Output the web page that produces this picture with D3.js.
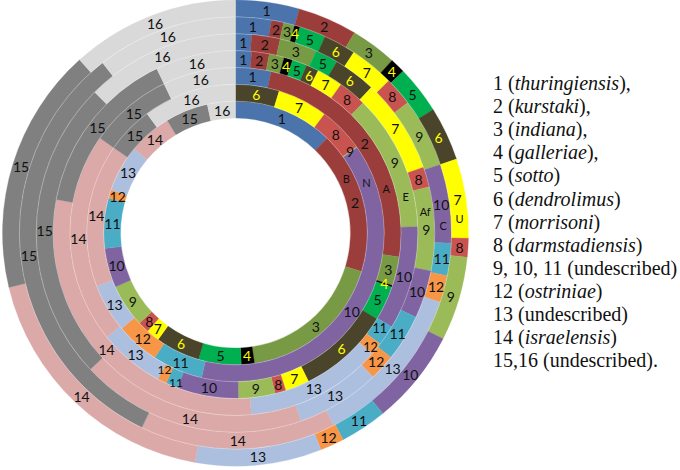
<!DOCTYPE html>
<html><head><meta charset="utf-8">
<script src="https://cdn.jsdelivr.net/npm/d3@7"></script>
<style>body{margin:0;background:#fff}svg{display:block}</style>
</head><body>
<svg id="chart" width="680" height="470"></svg>
<script>
// Categories (serovar groups), clockwise from 12 o'clock
const categories = ["1","2","3","4","5","6","7","8","9","10","11","12","13","14","15","16"];
// Ring names, inner to outer
const ringNames = ["B","N","A","E","Af","C","U"];
// Estimated shares (in degrees of the ring) for each category, per ring
const ringB  = [44, 63, 64.7, 5.8, 18.8, 19.7, 5.9, 4.9, 19, 17.4, 22.2, 3.8, 20.5, 19.1, 18.8, 12.4];
const ringN  = [0, 0, 0, 0, 0, 17.1, 19.7, 17.7, 0.4, 138.3, 19.7, 17.1, 19, 56, 18.4, 36.6];
const ringA  = [12.5, 85.8, 10.2, 0.6, 12.2, 32.5, 8.5, 3.8, 12.9, 21.5, 4.3, 3.2, 23, 74, 29.4, 25.6];
const ringE  = [5.1, 5.6, 4.8, 2.8, 4.7, 4, 8.4, 9, 43.6, 33, 6.5, 4, 43.5, 105.6, 53.8, 25.6];
const ringAf = [4.7, 8.3, 10.9, 0, 6.7, 12.4, 27.7, 5.9, 24.4, 14, 13.7, 7.6, 24.5, 66, 88.2, 45];
const ringC  = [9.6, 3.3, 3.0, 1.5, 7.1, 8.7, 12, 7.7, 18.6, 21.2, 8.7, 7.3, 44.3, 52.7, 116.3, 38];
const ringU  = [15.9, 14.8, 11.5, 3.8, 12, 13.5, 19.8, 4.7, 21, 23.8, 11.7, 6, 31.5, 66.5, 61.5, 42];
// Legend
const legendNumbers = ["1","2","3","4","5","6","7","8","9, 10, 11","12","13","14","15,16"];
const legendNames = ["thuringiensis","kurstaki","indiana","galleriae","sotto","dendrolimus","morrisoni","darmstadiensis","undescribed","ostriniae","undescribed","israelensis","undescribed"];
const legendItalic = [true,true,true,true,true,true,true,true,false,true,false,true,false];
const legendSuffix = [",",",",",",",","","","","","","","","","."];

const rings = [ringB, ringN, ringA, ringE, ringAf, ringC, ringU];
const palette = ["#4a74ab","#9b3d3a","#789a45","#000000","#00b050","#49442a","#ffff00","#c9534f",
                 "#9bbb59","#8064a2","#4bacc6","#f79646","#adbfdf","#dba9a8","#808080","#d9d9d9"];
const yellowText = new Set(["4","6"]);
const nameAngles = [64, 69, 73.5, 78, 83.6, 87.8, 86.3];
// small layout tweaks for crowded labels: [radial shift, angular shift (deg), font size]
const labelTweak = {"A-11": [4, -1, 12], "A-12": [-3, 1, 12], "E-11": [-1, -0.8, 12.5], "E-12": [3, 0.8, 12.5]};

const cx = 235.5, cy = 233;
const svg = d3.select("#chart");
const g = svg.append("g").attr("transform", `translate(${cx},${cy})`);
const rScale = d3.scaleLinear().domain([0, rings.length]).range([115, 233]);
const color = d3.scaleOrdinal().domain(categories).range(palette);
const pie = d3.pie().sort(null).value(d => d.v);

rings.forEach((vals, i) => {
  const arcs = pie(vals.map((v, j) => ({v, cat: categories[j]}))).filter(a => a.data.v > 0);
  const arc = d3.arc().innerRadius(rScale(i)).outerRadius(rScale(i + 1));
  g.append("g").selectAll("path").data(arcs).join("path")
    .attr("d", arc)
    .attr("fill", d => color(d.data.cat))
    .attr("stroke", d => color(d.data.cat)).attr("stroke-width", 0.3);
});
// faint ring separators
g.selectAll("circle.sep").data(d3.range(1, rings.length)).join("circle")
  .attr("r", d => rScale(d)).attr("fill", "none")
  .attr("stroke", "#fff").attr("stroke-opacity", 0.35).attr("stroke-width", 0.8);

rings.forEach((vals, i) => {
  const arcs = pie(vals.map((v, j) => ({v, cat: categories[j]}))).filter(a => a.data.v > 0);
  const rm = (rScale(i) + rScale(i + 1)) / 2;
  g.append("g").selectAll("text").data(arcs).join("text")
    .attr("transform", d => {
      const tw = labelTweak[ringNames[i] + "-" + d.data.cat] || [0, 0, 14];
      const a = (d.startAngle + d.endAngle) / 2 + tw[1] * Math.PI / 180;
      const r = rm + tw[0];
      return `translate(${r * Math.sin(a)},${-r * Math.cos(a)})`;
    })
    .attr("text-anchor", "middle").attr("dominant-baseline", "central")
    .attr("font-family", "Lato, 'Liberation Sans', sans-serif")
    .attr("font-size", d => (labelTweak[ringNames[i] + "-" + d.data.cat] || [0, 0, 14])[2])
    .attr("fill", d => yellowText.has(d.data.cat) ? "#ffff00" : "#111")
    .text(d => d.data.cat);
  // ring name
  const a = nameAngles[i] * Math.PI / 180;
  g.append("text")
    .attr("x", rm * Math.sin(a)).attr("y", -rm * Math.cos(a))
    .attr("text-anchor", "middle").attr("dominant-baseline", "central")
    .attr("font-family", "Lato, 'Liberation Sans', sans-serif").attr("font-size", 11)
    .attr("fill", "#111").text(ringNames[i]);
});

// legend
const leg = svg.append("g").attr("transform", "translate(493,90)");
legendNumbers.forEach((n, i) => {
  const t = leg.append("text").attr("y", i * 23.1)
    .attr("font-family", "'Liberation Serif', 'Times New Roman', serif").attr("font-size", 20).attr("fill", "#111");
  t.append("tspan").text(n + " (");
  t.append("tspan").attr("font-style", legendItalic[i] ? "italic" : "normal").text(legendNames[i]);
  t.append("tspan").text(")" + legendSuffix[i]);
});
</script>
</body></html>
